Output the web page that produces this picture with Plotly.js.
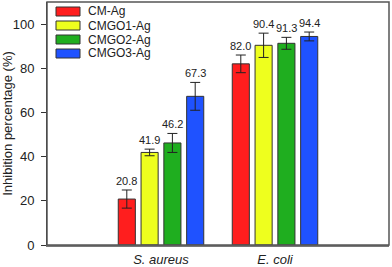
<!DOCTYPE html>
<html><head><meta charset="utf-8">
<script src="https://cdn.plot.ly/plotly-3.0.1.min.js"></script>
<style>html,body{margin:0;padding:0;background:#fff}#chart{width:392px;height:267px}</style>
</head><body><div id="chart"></div>
<script>
var categories = ["S. aureus", "E. coli"];
var tickLabels = ["<i>S. aureus</i>", "<i>E. coli</i>"];
var seriesNames = ["CM-Ag", "CMGO1-Ag", "CMGO2-Ag", "CMGO3-Ag"];
var cmAg = [20.8, 82.0];
var cmgo1Ag = [41.9, 90.4];
var cmgo2Ag = [46.2, 91.3];
var cmgo3Ag = [67.3, 94.4];
var cmAgErr = [4.1, 4.0];
var cmgo1AgErr = [1.5, 5.5];
var cmgo2AgErr = [4.3, 2.7];
var cmgo3AgErr = [6.3, 2.0];
var colors = ["#ff1e1e", "#eeff1e", "#1fae1f", "#1f52ff"];

var values = [cmAg, cmgo1Ag, cmgo2Ag, cmgo3Ag];
var errs = [cmAgErr, cmgo1AgErr, cmgo2AgErr, cmgo3AgErr];
var xpos = categories.map(function(c, i){ return i; });
var FONT = "Arial, Liberation Sans, sans-serif";

var traces = values.map(function(v, k){
  return {
    type: "bar", name: seriesNames[k], x: xpos, y: v,
    marker: {color: colors[k], line: {color: "#333", width: 1}},
    error_y: {type: "data", array: errs[k], visible: true, color: "#222", thickness: 1, width: 5},
    hoverinfo: "none", showlegend: false
  };
});

var annotations = [];
values.forEach(function(v, k){
  v.forEach(function(val, i){
    annotations.push({
      x: i + (k - 1.5) * 0.2, y: val + errs[k][i], xref: "x", yref: "y",
      text: val.toFixed(1), showarrow: false, yanchor: "bottom", yshift: 1,
      font: {family: FONT, size: 11, color: "#222"}
    });
  });
});

// custom legend with wide swatches (paper coordinates)
var shapes = [{type: "rect", xref: "paper", yref: "paper", x0: 0, x1: 1, y0: 0, y1: 1,
    line: {color: "#555", width: 1.5}, fillcolor: "rgba(0,0,0,0)"}];
var plotW = 392 - 47 - 3, plotH = 267 - 2 - 22;
seriesNames.forEach(function(n, k){
  var top = 5 + k * 14, bot = top + 9;
  shapes.push({type: "rect", xref: "paper", yref: "paper",
    x0: (56 - 47) / plotW, x1: (80 - 47) / plotW,
    y0: 1 - (bot) / plotH, y1: 1 - (top) / plotH,
    fillcolor: colors[k], line: {color: "#333", width: 1}});
  annotations.push({xref: "paper", yref: "paper", x: (86 - 47) / plotW, y: 1 - (top + 4.5) / plotH,
    xanchor: "left", yanchor: "middle", text: n, showarrow: false,
    font: {family: FONT, size: 12, color: "#222"}});
});

var layout = {
  width: 392, height: 267,
  margin: {l: 47, r: 3, t: 2, b: 22},
  paper_bgcolor: "#fff", plot_bgcolor: "#fff",
  barmode: "group", bargap: 0.2, bargroupgap: 0.25,
  showlegend: false,
  font: {family: FONT, color: "#222"},
  xaxis: {range: [-1, 2], tickvals: xpos, ticktext: tickLabels, ticks: "",
    showgrid: false, zeroline: false, showline: true, linecolor: "#777", linewidth: 2,
    ticklabelstandoff: 1, tickfont: {size: 13, color: "#222"}, fixedrange: true},
  yaxis: {range: [0, 110], tickvals: [0, 20, 40, 60, 80, 100], ticks: "outside", ticklen: 5,
    tickcolor: "#333", showgrid: false, zeroline: false, showline: true, linecolor: "#333",
    linewidth: 1, ticklabelstandoff: 4, tickfont: {size: 13, color: "#222"},
    title: {text: "Inhibition percentage (%)", font: {size: 13, color: "#222"}, standoff: 2}},
  shapes: shapes,
  annotations: annotations
};
Plotly.newPlot("chart", traces, layout, {displayModeBar: false, staticPlot: true});
</script></body></html>
